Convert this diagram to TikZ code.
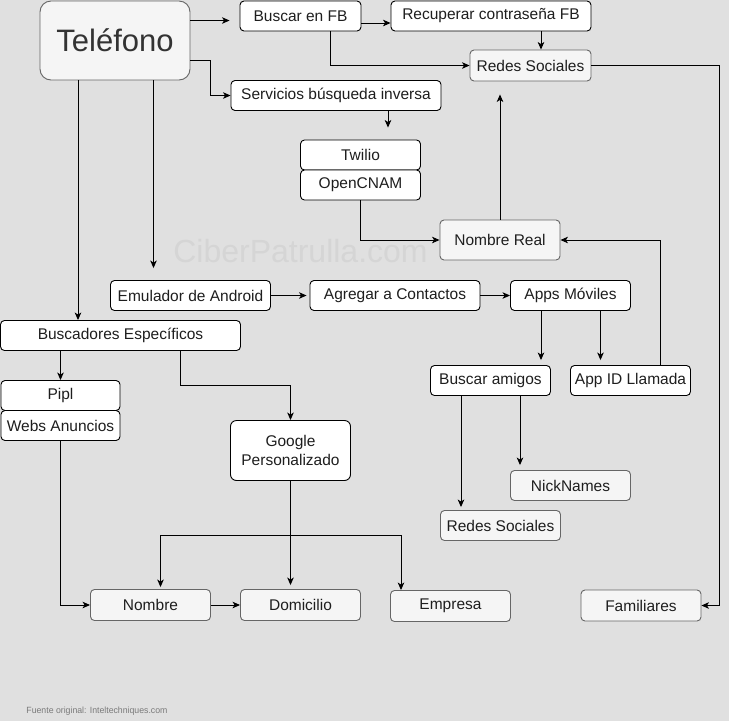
\documentclass[tikz,border=0pt]{standalone}
\usepackage{fontspec}
\setmainfont{Liberation Sans}
\usetikzlibrary{arrows.meta,calc}
\definecolor{bg}{HTML}{E0E0E0}
\definecolor{gfill}{HTML}{F5F5F5}
\definecolor{gdraw}{HTML}{666666}
\definecolor{txt}{HTML}{1E1E1E}
\definecolor{wm}{HTML}{D5D5D5}
\definecolor{foot}{HTML}{7A7A7A}
\begin{document}
\begin{tikzpicture}[x=1pt,y=-1pt,
  wbox/.style={draw=black,fill=white,rounded corners=4pt,line width=0.9pt,inner sep=0pt,
    minimum width=120pt,minimum height=30pt,text=txt,font=\fontsize{15.5}{18}\selectfont,align=center},
  gbox/.style={wbox,draw=gdraw,fill=gfill},
  arr/.style={line width=0.9pt,-{Stealth[length=7.5pt,width=6.5pt,inset=2pt]}}
]
\useasboundingbox[fill=bg] (0,0) rectangle (729,721);
\node[text=wm,font=\fontsize{32}{36}\selectfont,anchor=base] (wmark) at (300.5,262) {CiberPatrulla.com};
\node[text=foot,font=\fontsize{9}{10}\selectfont,anchor=west,xscale=0.97] (fuente) at (23,711) {Fuente original: Inteltechniques.com};

\node[gbox,rounded corners=11pt,minimum width=150pt,minimum height=79pt,font=\fontsize{31}{36}\selectfont,text=black!80] (tel) at (115,40.5) {Teléfono};
\node[wbox,minimum width=121pt] (fb) at (300.5,16) {Buscar en FB};
\node[wbox,minimum width=200pt] (rec) at (491,16) {Recuperar contraseña FB};
\node[gbox,minimum width=121pt,minimum height=31pt] (rs1) at (530.5,65.5) {Redes Sociales};
\node[wbox,minimum width=210pt] (serv) at (336,95.5) {Servicios búsqueda inversa};
\node[wbox] (twilio) at (360.5,155) {Twilio};
\node[wbox] (ocnam) at (360.5,185) {OpenCNAM};
\node[gbox,minimum height=40pt] (nreal) at (500,240) {Nombre Real};
\node[wbox,minimum width=160pt] (emu) at (190.5,295.5) {Emulador de Android};
\node[wbox,minimum width=170pt] (agr) at (395,295.5) {Agregar a Contactos};
\node[wbox] (apps) at (570.5,295.5) {Apps Móviles};
\node[wbox,minimum width=240pt] (busc) at (120.5,335.5) {Buscadores Específicos};
\node[wbox,minimum width=119pt] (pipl) at (60.5,395.5) {Pipl};
\node[wbox,minimum width=119pt] (webs) at (60.5,425.5) {Webs Anuncios};
\node[wbox] (bami) at (490.5,380.5) {Buscar amigos};
\node[wbox] (appid) at (630.5,380.5) {App ID Llamada};
\node[wbox,minimum height=60pt,rounded corners=6pt] (google) at (290.5,450.5) {Google\\[1pt]Personalizado};
\node[gbox] (nick) at (570.5,485.5) {NickNames};
\node[gbox] (rs2) at (500.5,525.5) {Redes Sociales};
\node[gbox,minimum height=31pt] (nombre) at (150.5,605) {Nombre};
\node[gbox,minimum height=31pt] (dom) at (300.5,605) {Domicilio};
\node[gbox,minimum height=31pt] (emp) at (450.5,606) {Empresa};
\node[gbox,minimum height=31pt] (fam) at (641,605.5) {Familiares};

\coordinate (gsplit) at (290.5,535);

\draw[arr,shorten >=10pt] (tel.east |- {(0,20.5)}) -- (fb.west |- {(0,20.5)});
\draw[arr] (fb.east |- {(0,23)}) -- (rec.west |- {(0,23)});
\draw[arr] (fb.south -| {(330,0)}) |- (rs1.west);
\draw[arr] (rec.south -| {(541,0)}) -- (rs1.north -| {(541,0)});
\draw[arr] (tel.east |- {(0,60.5)}) -- (210.5,60.5) |- (serv.west);
\draw[arr,shorten >=12pt] (serv.south -| {(388,0)}) -- (twilio.north -| {(388,0)});
\draw[arr] (ocnam.south) |- (nreal.west);
\draw[arr,shorten >=13pt] (nreal.north) -- (nreal.north |- rs1.south);
\draw[arr] (rs1.east) -- (719.5,65.5) |- (fam.east);
\draw[arr] (appid.north -| {(660,0)}) |- (nreal.east);
\draw[arr,shorten >=12pt] (tel.south -| {(153.5,0)}) -- (emu.north -| {(153.5,0)});
\draw[arr] (tel.south -| {(78,0)}) -- (busc.north -| {(78,0)});
\draw[arr,shorten >=3pt] (emu.east) -- (agr.west);
\draw[arr] (agr.east) -- (apps.west);
\draw[arr,shorten >=5pt] (apps.south -| {(541,0)}) -- (bami.north -| {(541,0)});
\draw[arr,shorten >=5pt] (apps.south -| {(600.5,0)}) -- (appid.north -| {(600.5,0)});
\draw[arr] (busc.south -| {(60.5,0)}) -- (pipl.north);
\draw[arr] (busc.south -| {(180.5,0)}) -- (180.5,385) -| (google.north);
\draw[arr,shorten >=5pt] (bami.south -| {(520,0)}) -- (nick.north -| {(520,0)});
\draw[arr,shorten >=3pt] (bami.south -| {(461,0)}) -- (rs2.north -| {(461,0)});
\draw[arr] (webs.south) |- (nombre.west);
\draw[arr,shorten >=4pt] (google.south) -- (google.south |- dom.north);
\draw[arr,shorten >=2pt] (google.south) -- (gsplit) -| (nombre.north -| {(160.5,0)});
\draw[arr] (gsplit) -| (emp.north -| {(401,0)});
\draw[arr] (nombre.east) -- (dom.west);
\end{tikzpicture}
\end{document}
